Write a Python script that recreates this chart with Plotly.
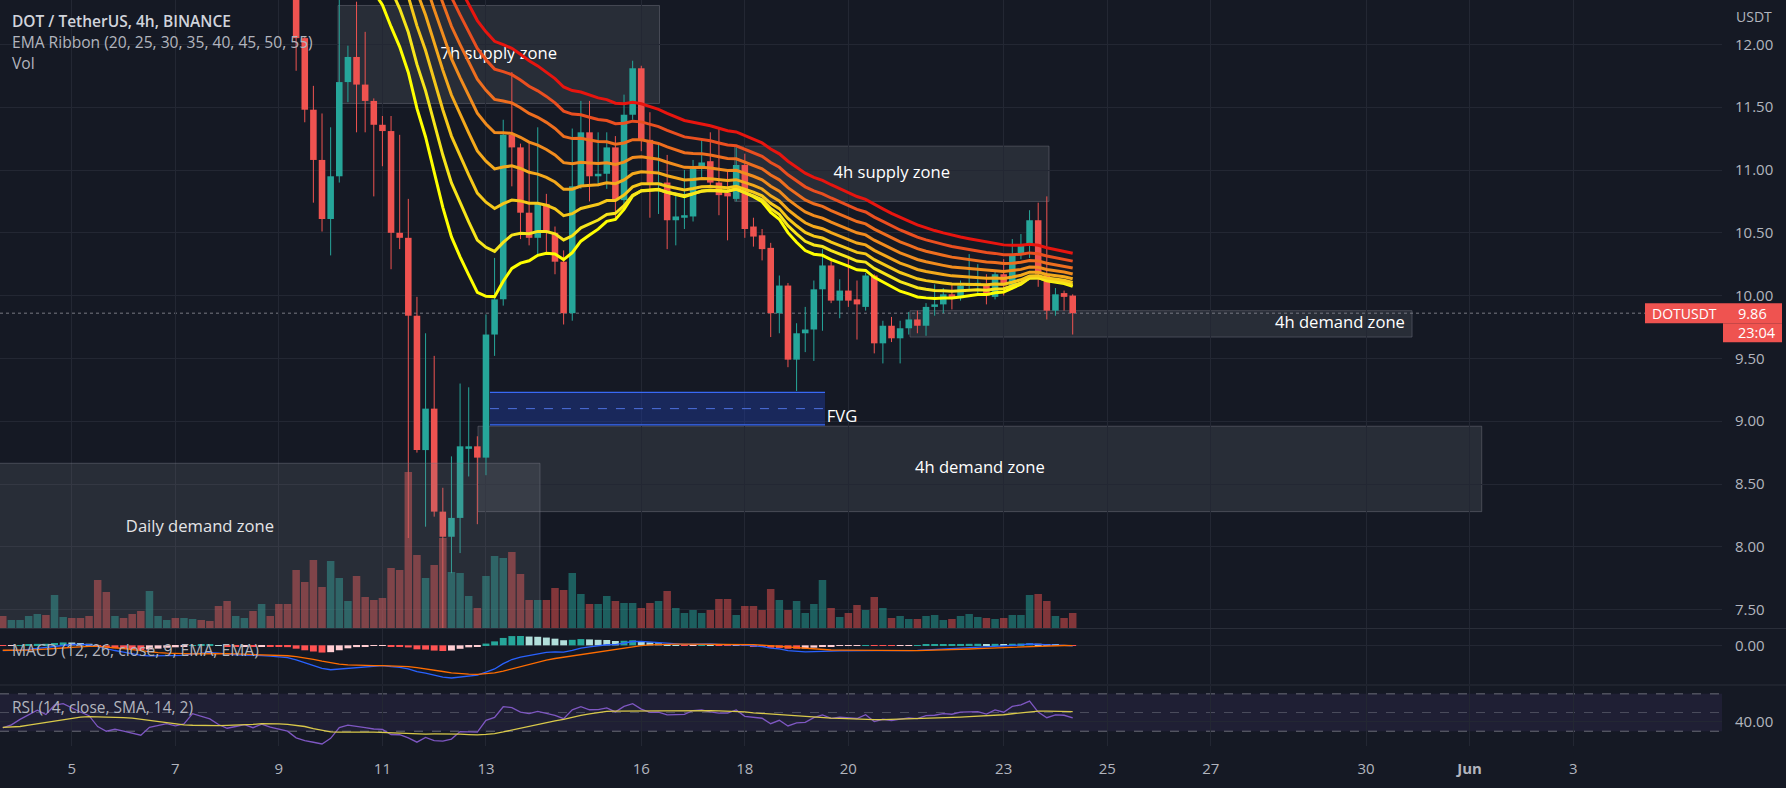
import numpy as np
import pandas as pd
import plotly.graph_objects as go

# ---------------------------------------------------------------- data
first_bar = "2022-05-03 16:00"          # first drawn 4h bar

# closes of the bars before the first drawn bar (they only feed the indicators)
warm_close = [16.6, 16.5, 16.7, 16.4, 16.3, 16.4, 16.2, 16.0, 16.1, 16.3,
              16.2, 15.9, 15.8, 15.9, 15.7, 15.9, 16.1, 16.0, 15.8, 15.6,
              15.7, 15.9, 15.8, 15.6, 15.4, 15.5, 15.7, 15.6, 15.4, 15.5]

open_ = [15.5, 15.3, 15.4, 15.6, 15.8, 16.0, 15.8, 16.3, 16.4, 16.2,
         16.0, 15.8, 15.0, 14.5, 14.6, 14.4, 14.2, 13.9, 14.3, 14.4,
         14.5, 14.3, 14.4, 15.0, 14.8, 14.6, 14.1, 13.7, 13.8, 13.9,
         13.6, 13.8, 13.5, 13.25,
         13.05, 12.05, 11.48, 11.08, 10.61, 10.95, 11.70, 11.90, 11.68, 11.55,
         11.36, 11.31, 10.50, 10.46, 9.84, 8.77, 9.10, 8.28, 8.08, 8.23,
         8.78, 8.80, 8.71, 9.69, 9.97, 11.28, 11.18, 10.66, 10.46, 10.73,
         10.50, 10.27, 9.86, 10.87, 11.30, 10.95, 10.97, 11.18, 10.76, 11.44,
         11.81, 11.24, 10.88, 10.90, 10.60, 10.62, 10.63, 11.01, 11.07, 10.90,
         10.82, 10.77, 11.04, 10.55, 10.48, 10.38, 9.86, 10.08, 9.49, 9.70,
         9.73, 10.05, 10.24, 9.96, 10.04, 9.97, 9.91, 10.16, 9.62, 9.76,
         9.66, 9.74, 9.81, 9.76, 9.91, 9.93, 10.01, 9.98, 10.08, 10.09,
         10.09, 9.99, 10.17, 10.08, 10.33, 10.41, 10.60, 10.17, 9.88, 10.02,
         10.00]
high = [15.6, 15.5, 15.7, 15.9, 16.1, 16.1, 16.5, 16.6, 16.5, 16.3,
        16.1, 15.9, 15.1, 14.8, 14.7, 14.5, 14.3, 14.4, 14.5, 14.6,
        14.6, 14.5, 15.1, 15.1, 14.9, 14.7, 14.2, 13.9, 14.0, 14.0,
        13.9, 13.9, 13.6, 13.35,
        13.10, 12.06, 11.67, 11.45, 11.34, 12.45, 11.99, 12.34, 12.10, 11.57,
        11.43, 11.43, 11.28, 10.77, 9.99, 9.70, 9.52, 8.47, 8.72, 9.30,
        9.27, 8.88, 9.85, 10.30, 11.40, 11.78, 11.21, 11.22, 11.34, 10.81,
        10.55, 10.36, 11.33, 11.55, 11.55, 11.30, 11.30, 11.27, 11.60, 11.87,
        11.83, 11.46, 11.22, 11.12, 10.82, 11.00, 11.08, 11.24, 11.30, 11.34,
        11.00, 11.18, 11.13, 10.62, 10.53, 10.42, 10.16, 10.10, 9.78, 9.91,
        10.12, 10.37, 10.30, 10.13, 10.30, 10.12, 10.18, 10.17, 9.80, 9.83,
        9.80, 9.87, 9.88, 9.94, 10.09, 10.06, 10.09, 10.12, 10.33, 10.25,
        10.17, 10.20, 10.29, 10.45, 10.49, 10.68, 10.74, 10.79, 10.06, 10.04,
        10.01]
low = [15.2, 15.2, 15.3, 15.5, 15.7, 15.7, 15.7, 16.2, 16.1, 15.9,
       15.7, 14.8, 14.3, 14.4, 14.3, 14.1, 13.7, 13.8, 14.2, 14.3,
       14.2, 14.2, 14.3, 14.7, 14.5, 14.0, 13.5, 13.5, 13.7, 13.5,
       13.5, 13.4, 13.1, 12.95,
       11.79, 11.38, 10.74, 10.51, 10.32, 10.90, 11.54, 11.30, 11.30, 10.79,
       11.03, 10.21, 10.37, 8.07, 8.75, 8.16, 8.24, 7.32, 7.79, 7.95,
       8.56, 8.18, 8.57, 9.52, 9.92, 10.87, 10.45, 10.40, 10.33, 10.33,
       10.17, 9.77, 9.80, 10.85, 10.75, 10.87, 10.85, 10.60, 10.68, 11.40,
       11.15, 10.62, 10.65, 10.37, 10.40, 10.53, 10.59, 10.94, 10.88, 10.64,
       10.44, 10.75, 10.46, 10.39, 10.28, 9.67, 9.70, 9.43, 9.24, 9.55,
       9.48, 9.72, 9.94, 9.82, 9.91, 9.65, 9.88, 9.54, 9.46, 9.63,
       9.46, 9.69, 9.70, 9.68, 9.84, 9.86, 9.89, 9.96, 10.04, 10.00,
       9.93, 9.97, 10.00, 10.05, 10.29, 10.30, 10.07, 9.81, 9.84, 9.88,
       9.69]
close = [15.3, 15.4, 15.6, 15.8, 16.0, 15.8, 16.3, 16.4, 16.2, 16.0,
         15.8, 15.0, 14.5, 14.6, 14.4, 14.2, 13.9, 14.3, 14.4, 14.5,
         14.3, 14.4, 15.0, 14.8, 14.6, 14.1, 13.7, 13.8, 13.9, 13.6,
         13.8, 13.5, 13.25, 13.05,
         12.05, 11.48, 11.08, 10.61, 10.95, 11.70, 11.90, 11.68, 11.55, 11.36,
         11.31, 10.50, 10.46, 9.84, 8.77, 9.10, 8.28, 8.08, 8.23, 8.80,
         8.80, 8.71, 9.69, 9.97, 11.28, 11.18, 10.66, 10.46, 10.73, 10.50,
         10.27, 9.86, 10.87, 11.30, 10.95, 10.97, 11.18, 10.76, 11.44, 11.81,
         11.24, 10.88, 10.90, 10.60, 10.63, 10.64, 11.01, 11.06, 10.90, 10.80,
         10.79, 11.04, 10.53, 10.47, 10.37, 9.86, 10.08, 9.49, 9.70, 9.73,
         10.05, 10.24, 9.96, 10.04, 9.96, 9.93, 10.16, 9.62, 9.76, 9.66,
         9.74, 9.81, 9.76, 9.91, 9.93, 10.01, 9.98, 10.08, 10.09, 10.10,
         10.00, 10.17, 10.08, 10.33, 10.41, 10.60, 10.17, 9.88, 10.01, 9.99,
         9.86]
volume = [12, 8, 8, 12, 14, 13, 33, 11, 10, 10,
          12, 48, 36, 12, 10, 14, 17, 37, 12, 8,
          10, 10, 9, 8, 7, 22, 27, 12, 10, 17,
          24, 12, 24, 24,
          58, 46, 68, 41, 67, 50, 27, 52, 31, 28,
          30, 60, 58, 156, 73, 50, 63, 90, 56, 55,
          32, 20, 52, 72, 70, 76, 54, 28, 28, 28,
          40, 38, 55, 34, 24, 24, 32, 27, 25, 25,
          20, 25, 27, 37, 20, 15, 18, 15, 18, 29,
          29, 13, 22, 22, 18, 39, 28, 18, 27, 15,
          24, 48, 20, 11, 15, 23, 18, 31, 20, 10,
          12, 9, 9, 12, 13, 8, 9, 12, 14, 11,
          10, 9, 10, 13, 13, 33, 34, 27, 12, 10,
          15]

ema_lengths = [20, 25, 30, 35, 40, 45, 50, 55]
ema_colors = ["#ffff00", "#f7e51b", "#f6c81a", "#f4a91c", "#f18c1e",
              "#ee6e1f", "#ea4f20", "#e8150f"]

date_ticks = ["2022-05-05", "2022-05-07", "2022-05-09", "2022-05-11", "2022-05-13",
              "2022-05-16", "2022-05-18", "2022-05-20", "2022-05-23", "2022-05-25",
              "2022-05-27", "2022-05-30", "2022-06-01", "2022-06-03"]
date_labels = ["5", "7", "9", "11", "13", "16", "18", "20", "23", "25", "27", "30",
               "<b>Jun</b>", "3"]
price_ticks = [7.5, 8.0, 8.5, 9.0, 9.5, 10.0, 10.5, 11.0, 11.5, 12.0]

zones = [
    dict(name="7h supply zone", x0="2022-05-10 03:25", x1="2022-05-16 08:27", y0=11.53, y1=12.31, top=False),
    dict(name="4h supply zone", x0="2022-05-17 19:16", x1="2022-05-23 21:01", y0=10.75, y1=11.19, top=False),
    dict(name="4h demand zone", x0="2022-05-21 04:34", x1="2022-05-30 21:19", y0=9.67, y1=9.88, top=False),
    dict(name="4h demand zone", x0="2022-05-12 20:18", x1="2022-06-01 05:37", y0=8.28, y1=8.96, top=False),
    dict(name="Daily demand zone", x0="2022-04-30 21:49", x1="2022-05-14 01:02", y0=7.0, y1=8.665, top=True),
]
zone_label_pos = [  # (x, y, textposition)
    ("2022-05-13 05:56", 11.92, "middle center"),
    ("2022-05-20 20:09", 10.97, "middle center"),
    ("2022-05-30 18:00", 9.775, "middle left"),
    ("2022-05-22 12:58", 8.62, "middle center"),
    ("2022-05-07 11:25", 8.15, "middle center"),
]
fvg = dict(x0="2022-05-13 01:51", x1="2022-05-19 13:11", y0=8.97, y1=9.23)
fvg_label = ("2022-05-19 14:00", 9.03)

x_range = ["2022-05-03 14:43", "2022-06-05 21:00"]
price_range = [7.3535, 12.3535]
rsi_range = [14.2, 78.4]
vol_range = [0, 628]

# ---------------------------------------------------------------- geometry
W, H = 1786, 788
MR, MB = 64, 42
PW, PH = W - MR, H - MB


def py(px):  # pixel row (from top of plot area) -> paper y
    return (PH - px) / PH


def px_x(px):
    return px / PW


dom_price = [py(628), 1.0]
dom_macd = [py(684), py(629)]
dom_rsi = [0.0, py(686)]

BG = "#151924"
GRID = "#232733"
UP, DN = "#26a69a", "#ef5350"
FONT = "Open Sans, Noto Sans, sans-serif"
AXC = "#b2b5be"

# ---------------------------------------------------------------- indicators
times = pd.date_range(first_bar, periods=len(close), freq="4h")
nw = len(warm_close)
allc = pd.Series(warm_close + close, dtype=float)
emas = {n: allc.ewm(span=n, adjust=False).mean().iloc[nw:].to_numpy() for n in ema_lengths}
macd = allc.ewm(span=12, adjust=False).mean() - allc.ewm(span=26, adjust=False).mean()
sig = macd.ewm(span=9, adjust=False).mean()
hist = macd - sig
delta = allc.diff()
ag = delta.clip(lower=0).ewm(alpha=1 / 14, adjust=False).mean()
al = (-delta).clip(lower=0).ewm(alpha=1 / 14, adjust=False).mean()
rsi = 100 - 100 / (1 + ag / al)
rsi_ma = rsi.rolling(14).mean()
macd_v = macd.iloc[nw:].to_numpy()
sig_v = sig.iloc[nw:].to_numpy()
hist_v = hist.iloc[nw:].to_numpy()
hist_prev = hist.shift(1).iloc[nw:].to_numpy()
rsi_v = rsi.iloc[nw:].to_numpy()
rsi_ma_v = rsi_ma.iloc[nw:].to_numpy()

o = np.array(open_)
c = np.array(close)
h = np.array(high)
lo = np.array(low)
up = c >= o

hist_col = np.where(hist_v >= 0,
                    np.where(hist_v > hist_prev, "#26a69a", "#b2dfdb"),
                    np.where(hist_v > hist_prev, "#ffcdd2", "#ff5252"))

allm = np.concatenate([macd_v, sig_v, hist_v])
mn, mx = allm.min(), allm.max()
scale = (55 - 13) / (mx - mn)
macd_range = [mn - 6 / scale, mx + 7 / scale]

BAR_MS = 4 * 3600 * 1000

fig = go.Figure()

# volume (base subplot)
fig.add_trace(go.Bar(
    x=times, y=volume, xaxis="x", yaxis="y", width=0.87 * BAR_MS,
    marker=dict(color=np.where(up, "rgba(38,166,154,0.5)", "rgba(239,83,80,0.5)"),
                line=dict(width=0)),
    hoverinfo="skip"))

# candle bodies
body_base = np.minimum(o, c)
body_h = np.maximum(np.abs(c - o), 0.012)
fig.add_trace(go.Bar(
    x=times, y=body_h, base=body_base, xaxis="x", yaxis="y2", width=0.76 * BAR_MS,
    marker=dict(color=np.where(up, UP, DN), line=dict(width=0)), hoverinfo="skip"))

# wicks
for mask, col in ((up, UP), (~up, DN)):
    wx, wy = [], []
    for t, hh, ll in zip(times[mask], h[mask], lo[mask]):
        wx += [t, t, None]
        wy += [ll, hh, None]
    fig.add_trace(go.Scatter(x=wx, y=wy, mode="lines", xaxis="x", yaxis="y2",
                             line=dict(color=col, width=1), hoverinfo="skip"))

# zone labels (below the ribbon)
fig.add_trace(go.Scatter(
    x=[p[0] for p in zone_label_pos], y=[p[1] for p in zone_label_pos],
    text=[z["name"] for z in zones], mode="text",
    textposition=[p[2] for p in zone_label_pos],
    textfont=dict(color="#ffffff", size=16.6, family=FONT),
    xaxis="x", yaxis="y2", hoverinfo="skip"))
fig.add_trace(go.Scatter(
    x=[fvg_label[0]], y=[fvg_label[1]], text=["FVG"], mode="text",
    textposition="middle right", textfont=dict(color="#ffffff", size=16.6, family=FONT),
    xaxis="x", yaxis="y2", hoverinfo="skip", cliponaxis=False))

# EMA ribbon
for n, col in zip(ema_lengths, ema_colors):
    fig.add_trace(go.Scatter(x=times, y=emas[n], mode="lines", xaxis="x", yaxis="y2",
                             line=dict(color=col, width=3), hoverinfo="skip"))

# MACD
fig.add_trace(go.Bar(x=times, y=hist_v, xaxis="x", yaxis="y3", width=0.8 * BAR_MS,
                     marker=dict(color=hist_col, line=dict(width=0)), hoverinfo="skip"))
fig.add_trace(go.Scatter(x=times, y=macd_v, mode="lines", xaxis="x", yaxis="y3",
                         line=dict(color="#2962ff", width=1.3), hoverinfo="skip"))
fig.add_trace(go.Scatter(x=times, y=sig_v, mode="lines", xaxis="x", yaxis="y3",
                         line=dict(color="#ff6d00", width=1.3), hoverinfo="skip"))

# RSI
fig.add_trace(go.Scatter(x=times, y=rsi_v, mode="lines", xaxis="x", yaxis="y4",
                         line=dict(color="#7e57c2", width=1.3), hoverinfo="skip"))
fig.add_trace(go.Scatter(x=times, y=rsi_ma_v, mode="lines", xaxis="x", yaxis="y4",
                         line=dict(color="#d9c94a", width=1.3), hoverinfo="skip"))

# ---------------------------------------------------------------- shapes
shapes = []
zone_fill = "rgba(120,123,134,0.2)"
zone_line = "rgba(120,123,134,0.45)"
for z in zones:
    shapes.append(dict(type="rect", xref="x", yref="y2", x0=z["x0"], x1=z["x1"],
                       y0=z["y0"], y1=z["y1"], fillcolor=zone_fill,
                       line=dict(color=zone_line, width=1),
                       layer="above" if z["top"] else "below"))
shapes.append(dict(type="rect", xref="x", yref="y2", x0=fvg["x0"], x1=fvg["x1"],
                   y0=fvg["y0"], y1=fvg["y1"], fillcolor="rgba(30,60,160,0.45)",
                   line=dict(width=0), layer="above"))
for yy in (fvg["y0"], fvg["y1"]):
    shapes.append(dict(type="line", xref="x", yref="y2", x0=fvg["x0"], x1=fvg["x1"],
                       y0=yy, y1=yy, line=dict(color="rgba(58,110,255,0.95)", width=1.2),
                       layer="above"))
mid = (fvg["y0"] + fvg["y1"]) / 2
shapes.append(dict(type="line", xref="x", yref="y2", x0=fvg["x0"], x1=fvg["x1"],
                   y0=mid, y1=mid, line=dict(color="rgba(90,130,255,0.8)", width=1, dash="dash"),
                   layer="above"))


def price_to_py(p):
    return dom_price[0] + (p - price_range[0]) / (price_range[1] - price_range[0]) * (dom_price[1] - dom_price[0])


def rsi_to_py(v):
    return dom_rsi[0] + (v - rsi_range[0]) / (rsi_range[1] - rsi_range[0]) * (dom_rsi[1] - dom_rsi[0])


last = close[-1]
lp = price_to_py(last)
# last price dotted line
shapes.append(dict(type="line", xref="paper", yref="paper", x0=0, x1=1, y0=lp, y1=lp,
                   line=dict(color="rgba(200,200,210,0.55)", width=1, dash="dot"), layer="below"))
# RSI band and levels
shapes.append(dict(type="rect", xref="paper", yref="paper", x0=0, x1=1,
                   y0=rsi_to_py(30), y1=rsi_to_py(70),
                   fillcolor="rgba(126,87,194,0.10)", line=dict(width=0), layer="below"))
for lv, op in ((70, 0.6), (50, 0.35), (30, 0.6)):
    shapes.append(dict(type="line", xref="paper", yref="paper", x0=0, x1=1,
                       y0=rsi_to_py(lv), y1=rsi_to_py(lv),
                       line=dict(color=f"rgba(160,163,172,{op})", width=1, dash="dash"),
                       layer="below"))
# pane separators
for sp in (628.5, 685):
    shapes.append(dict(type="line", xref="paper", yref="paper", x0=0, x1=W / PW,
                       y0=py(sp), y1=py(sp), line=dict(color="#2a2e39", width=1)))

# price label on the right axis
hpx = 10 / PH
shapes.append(dict(type="rect", xref="paper", yref="paper", x0=px_x(1645), x1=px_x(1782),
                   y0=lp - hpx, y1=lp + hpx, fillcolor="#ef5350", line=dict(width=0)))
shapes.append(dict(type="rect", xref="paper", yref="paper", x0=px_x(1723), x1=px_x(1782),
                   y0=lp - hpx - 19 / PH, y1=lp - hpx, fillcolor="#ef5350", line=dict(width=0)))

# ---------------------------------------------------------------- annotations
ann = []


def txt(x, y, s, size=15, color=AXC, anchor="left", weight=None):
    f = dict(size=size, color=color, family=FONT)
    if weight:
        f["weight"] = weight
    ann.append(dict(xref="paper", yref="paper", x=x, y=y, text=s, showarrow=False,
                    xanchor=anchor, yanchor="middle", font=f))


txt(px_x(10), py(21), "DOT / TetherUS, 4h, BINANCE", 15.5, "#d1d4dc", weight=600)
txt(px_x(10), py(42), "EMA Ribbon (20, 25, 30, 35, 40, 45, 50, 55)", 15.6, "#b2b5be")
txt(px_x(10), py(63), "Vol", 15.6, "#b2b5be")
txt(px_x(10), py(650), "MACD (12, 26, close, 9, EMA, EMA)", 15.7, "#b2b5be")
txt(px_x(10), py(707), "RSI (14, close, SMA, 14, 2)", 15.5, "#b2b5be")
txt(px_x(1734), py(16), "USDT", 14, AXC)
txt(px_x(1684), lp, "DOTUSDT", 14, "#ffffff", anchor="center")
txt(px_x(1736), lp, f"{last:.2f}", 14.5, "#ffffff")
txt(px_x(1736), lp - hpx - 9.5 / PH, "23:04", 14.5, "#ffffff")

axis_common = dict(showline=False, zeroline=False, ticks="", fixedrange=True)
fig.update_layout(
    width=W, height=H, margin=dict(l=0, r=MR, t=0, b=MB),
    paper_bgcolor=BG, plot_bgcolor=BG, showlegend=False, barmode="overlay",
    hovermode=False,
    xaxis=dict(type="date", range=x_range, anchor="y4", tickvals=date_ticks,
               ticktext=date_labels, showgrid=True, gridcolor=GRID, gridwidth=1,
               tickfont=dict(size=15, color=AXC, family=FONT), ticklabelstandoff=12,
               **axis_common),
    yaxis=dict(domain=dom_price, range=vol_range, visible=False, anchor="x", **axis_common),
    yaxis2=dict(domain=dom_price, overlaying="y", side="right", anchor="x", range=price_range,
                tickvals=price_ticks, tickformat=".2f", showgrid=True, gridcolor=GRID,
                tickfont=dict(size=15, color=AXC, family=FONT), ticklabelstandoff=12,
                **axis_common),
    yaxis3=dict(domain=dom_macd, side="right", anchor="x", range=macd_range,
                tickvals=[0], ticktext=["0.00"], showgrid=True, gridcolor=GRID,
                tickfont=dict(size=15, color=AXC, family=FONT), ticklabelstandoff=12,
                **axis_common),
    yaxis4=dict(domain=dom_rsi, side="right", anchor="x", range=rsi_range,
                tickvals=[40], ticktext=["40.00"], showgrid=True, gridcolor=GRID,
                tickfont=dict(size=15, color=AXC, family=FONT), ticklabelstandoff=12,
                **axis_common),
    shapes=shapes, annotations=ann,
)

fig.write_html("out.html", config={"displayModeBar": False},
               post_script="document.body.style.margin='0';")
